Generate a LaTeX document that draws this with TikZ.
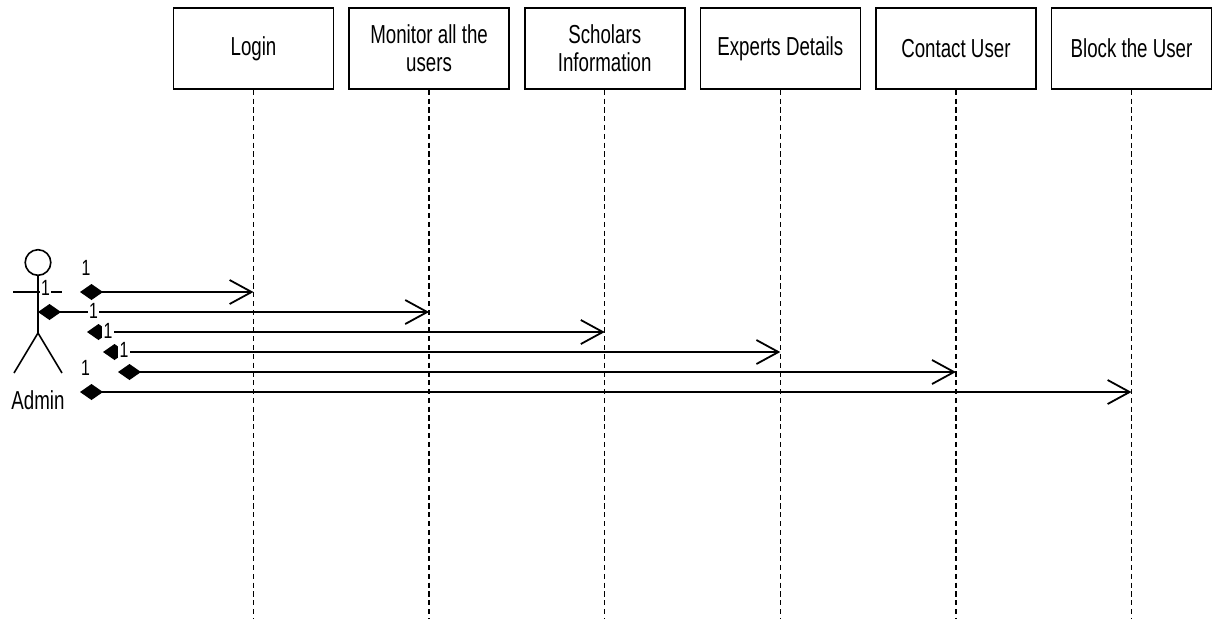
\documentclass[tikz,border=0pt]{standalone}
\usepackage{fontspec}
\setmainfont[FakeStretch=0.72]{Liberation Sans}
\usetikzlibrary{arrows.meta}
\tikzstyle{block} = [rectangle, draw, line width=0.8pt, minimum width=80pt,
    minimum height=40.5pt, align=center, font=\fontsize{13}{14}\selectfont]
\tikzstyle{lifeline} = [draw, line width=0.7pt, dash pattern=on 2.6pt off 1.8pt]
\tikzstyle{msg} = [draw, line width=0.9pt,
    {Diamond[length=11.5pt,width=8pt]}-{Straight Barb[length=11pt,width=12pt]}]
\tikzstyle{mult} = [fill=white, inner sep=0.6pt, font=\fontsize{11}{12}\selectfont]
\tikzstyle{actor} = [draw, line width=0.8pt]

\begin{document}
\begin{tikzpicture}[x=0.5pt, y=-0.5pt, node distance=87.8pt]
    \useasboundingbox (0,0) rectangle (1214,618);
    \coordinate (bottom) at (0,618);
    % Place nodes
    \node [block] (login) at (253.5,48.5) {Login};
    \node [block, right of=login] (monitor) {Monitor all the\\users};
    \node [block, right of=monitor] (scholars) {Scholars\\Information};
    \node [block, right of=scholars] (experts) {Experts Details};
    \node [block, right of=experts] (contact) {Contact User};
    \node [block, right of=contact] (blockuser) {Block the User};
    % Actor
    \draw [actor] (38,262.5) circle [radius=6.4pt];
    \draw [actor] (38,275) -- (38,333) -- (14,373);
    \draw [actor] (38,333) -- (62,373);
    \draw [actor] (13,292) -- (62,292);
    \node [font=\fontsize{13}{14}\selectfont] (admin) at (38,400) {Admin};
    % Lifelines
    \path [lifeline] (login.south) -- (login |- bottom);
    \path [lifeline] (monitor.south) -- (monitor |- bottom);
    \path [lifeline] (scholars.south) -- (scholars |- bottom);
    \path [lifeline] (experts.south) -- (experts |- bottom);
    \path [lifeline] (contact.south) -- (contact |- bottom);
    \path [lifeline] (blockuser.south) -- (blockuser |- bottom);
    % Messages
    \coordinate (s1) at (80,292);
    \coordinate (s2) at (38,312);
    \coordinate (s3) at (87,332);
    \coordinate (s4) at (103,352);
    \coordinate (s5) at (118,372);
    \coordinate (s6) at (80,392);
    \path [msg] (s1) -- (s1 -| login);
    \path [msg] (s2) -- (s2 -| monitor);
    \path [msg] (s3) -- (s3 -| scholars);
    \path [msg] (s4) -- (s4 -| experts);
    \path [msg] (s5) -- (s5 -| contact);
    \path [msg] (s6) -- (s6 -| blockuser);
    % Multiplicities
    \node [mult] (m1) at (86,268) {1};
    \node [mult] (m2) at (45.5,288) {1};
    \node [mult] (m3) at (93.5,310.5) {1};
    \node [mult] (m4) at (108,330.5) {1};
    \node [mult] (m5) at (124,350) {1};
    \node [mult] (m6) at (85.5,368) {1};
\end{tikzpicture}
\end{document}
